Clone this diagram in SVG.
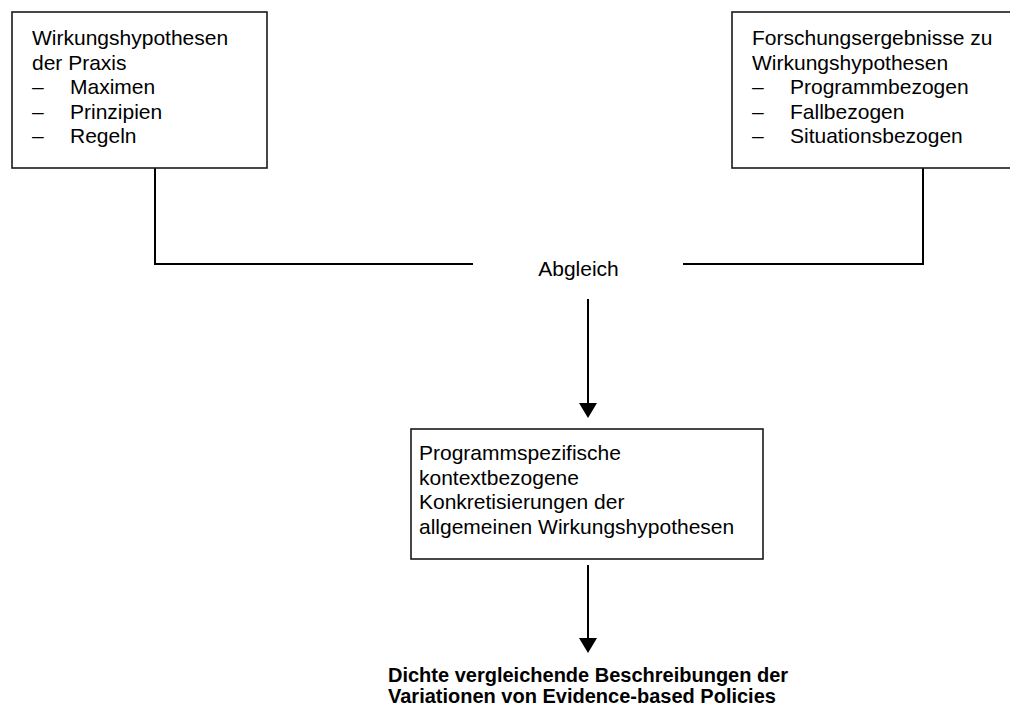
<svg xmlns="http://www.w3.org/2000/svg" width="1010" height="706" viewBox="0 0 1010 706">
<style>
.box{fill:#fff;stroke:#1a1a1a;stroke-width:1.6}
.t{font-family:"Liberation Sans",Arial,sans-serif;font-size:21px;fill:#000}
.b{font-family:"Liberation Sans",Arial,sans-serif;font-size:20px;font-weight:bold;fill:#000}
.c{fill:none;stroke:#000;stroke-width:2}
.h{fill:#000}
</style>
<rect width="1010" height="706" fill="#fff"/>
<g id="connectors">
<polyline class="c" points="155,168 155,264 473,264"/>
<polyline class="c" points="923,168 923,264 683,264"/>
<line class="c" x1="588" y1="299" x2="588" y2="404"/>
<polygon class="h" points="579,403 597,403 588,418"/>
<line class="c" x1="588" y1="565" x2="588" y2="639"/>
<polygon class="h" points="579,638 597,638 588,653"/>
</g>
<g id="node-praxis">
<rect class="box" x="12" y="12" width="255" height="156"/>
<text class="t" x="32" y="45">Wirkungshypothesen</text>
<text class="t" x="32" y="69.5">der Praxis</text>
<text class="t" x="32" y="94">–</text><text class="t" x="70" y="94">Maximen</text>
<text class="t" x="32" y="118.5">–</text><text class="t" x="70" y="118.5">Prinzipien</text>
<text class="t" x="32" y="143">–</text><text class="t" x="70" y="143">Regeln</text>
</g>
<g id="node-forschung">
<rect class="box" x="732" y="12" width="282" height="156"/>
<text class="t" x="752" y="45">Forschungsergebnisse zu</text>
<text class="t" x="752" y="69.5">Wirkungshypothesen</text>
<text class="t" x="752" y="94">–</text><text class="t" x="790" y="94">Programmbezogen</text>
<text class="t" x="752" y="118.5">–</text><text class="t" x="790" y="118.5">Fallbezogen</text>
<text class="t" x="752" y="143">–</text><text class="t" x="790" y="143">Situationsbezogen</text>
</g>
<g id="node-abgleich">
<text class="t" x="578.5" y="276" text-anchor="middle">Abgleich</text>
</g>
<g id="node-konkret">
<rect class="box" x="411" y="429" width="352" height="130"/>
<text class="t" x="419" y="460">Programmspezifische</text>
<text class="t" x="419" y="484.5">kontextbezogene</text>
<text class="t" x="419" y="509">Konkretisierungen der</text>
<text class="t" x="419" y="533.5">allgemeinen Wirkungshypothesen</text>
</g>
<g id="node-ergebnis">
<text class="b" x="388" y="682">Dichte vergleichende Beschreibungen der</text>
<text class="b" x="388" y="703">Variationen von Evidence-based Policies</text>
</g>
</svg>
